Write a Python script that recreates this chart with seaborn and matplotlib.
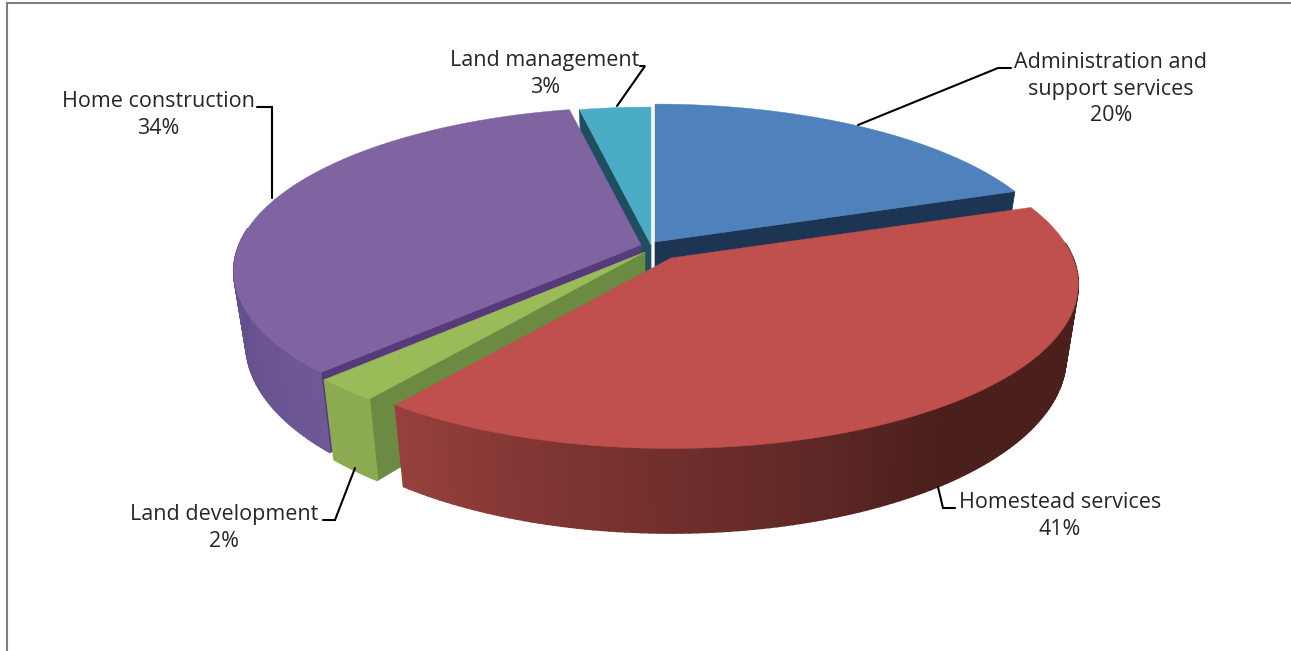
'''
Exploded 3D pie chart of program spending, drawn on a flat axes
'''

import numpy as np
import seaborn as sns
import matplotlib
matplotlib.use('Agg')
import matplotlib.pyplot as plt

# 1. Data
categories = ['Administration and\nsupport services', 'Homestead services',
              'Land development', 'Home construction', 'Land management']
values = [19.6, 40.6, 2.3, 34.2, 3.3]

# 2. Colours
top_colors = ['#4F81BD', '#C0504D', '#9BBB59', '#8064A2', '#4BACC6']
cut_colors = ['#1C3553', '#4F2020', '#6B8A42', '#553A7C', '#1F4E5E']
wall_colors = [['#2E5480', '#2E5480'],
               ['#52211E', '#4F201C', '#4C1F1C', '#4A1F1C', '#642A28', '#7C3431', '#96403C'],
               ['#8CAA50', '#8CAA50'],
               ['#6E5896', '#5E4A84', '#6E5896'],
               ['#2F7488', '#2F7488']]

# 3. Projection settings (pixels)
radius_x = 402
radius_y = 160
persp = 0.16
depth = 71
taper = 0.03
# where each slice apex ends up after the explosion
apex_x = [655, 671, 645, 641, 651]
apex_y = [242, 258, 252, 245, 245]
draw_order = [0, 4, 3, 2, 1]


def project(theta, r, z, i):
    # theta clockwise from 12 o'clock, z is 0 on top and 1 at the bottom
    u = r * np.sin(theta)
    v = r * np.cos(theta)
    w = 1 + persp * v
    x = apex_x[i] + radius_x * u / w * (1 - taper * z)
    y = apex_y[i] - radius_y * v / w + depth * z / w
    return x, y


sns.set_theme(style='white')
plt.rcParams['font.family'] = ['Open Sans', 'DejaVu Sans']

fig = plt.figure(figsize=(12.91, 6.51), dpi=100)
ax = fig.add_axes([7 / 1291, 0, 1 - 7 / 1291, 1 - 3 / 651])
ax.set_xlim(7, 1291)
ax.set_ylim(651, 3)
ax.set_xticks([])
ax.set_yticks([])
sns.despine(ax=ax, top=False, left=False, right=True, bottom=True)
for side in ['top', 'left']:
    ax.spines[side].set_color('#808080')
    ax.spines[side].set_linewidth(1.5)

# 4. Slice angles come from the values
edges = np.deg2rad(np.cumsum([0] + values) * 3.6)

for rank, i in enumerate(draw_order):
    t1, t2 = edges[i], edges[i + 1]

    # cut faces that look towards the viewer
    for t, visible in [(t1, np.sin(t1) < -1e-6), (t2, np.sin(t2) > 1e-6)]:
        if visible:
            x0, y0 = project(t, 0, 0, i)
            x1, y1 = project(t, 1, 0, i)
            x2, y2 = project(t, 1, 1, i)
            x3, y3 = project(t, 0, 1, i)
            ax.fill([x0, x1, x2, x3], [y0, y1, y2, y3], color=cut_colors[i], lw=0.5, zorder=rank)

    # outer wall as thin strips, the gradient runs along the angle
    n = max(int(np.degrees(t2 - t1)), 2)
    angles = np.linspace(t1, t2, n + 1)
    strip_colors = sns.blend_palette(wall_colors[i], n)
    for j in range(n):
        a, b = angles[j], angles[j + 1]
        if np.cos((a + b) / 2) > 0.1:
            continue
        xa, ya = project(a, 1, 0, i)
        xb, yb = project(b, 1, 0, i)
        xc, yc = project(b, 1, 1, i)
        xd, yd = project(a, 1, 1, i)
        ax.fill([xa, xb, xc, xd], [ya, yb, yc, yd], color=strip_colors[j], lw=1.2, zorder=rank)

    # top face
    arc = np.linspace(t1, t2, 120)
    xs, ys = project(arc, 1, 0, i)
    x0, y0 = project(t1, 0, 0, i)
    ax.fill(np.r_[x0, xs], np.r_[y0, ys], color=top_colors[i], lw=0.3, zorder=rank)

# 5. Labels and leader lines
label_x = [1111, 1060, 224, 158, 545]
label_y = [89, 516, 528, 115, 74]
for i in range(len(categories)):
    ax.text(label_x[i], label_y[i], f'{categories[i]}\n{values[i]:.0f}%', ha='center', va='center',
            fontsize=15.5, color='#262626', linespacing=1.33, zorder=20)

leader_x = [[858, 998, 1011], [938, 943, 955], [355, 335, 323], [257, 272, 272], [617, 645, 640]]
leader_y = [[125, 68, 68], [487, 508, 508], [468, 520, 520], [107, 107, 198], [106, 66, 66]]
for lx, ly in zip(leader_x, leader_y):
    ax.plot(lx, ly, color='black', lw=1.5, zorder=15, solid_joinstyle='miter')

fig.savefig('out.png', dpi=100)
